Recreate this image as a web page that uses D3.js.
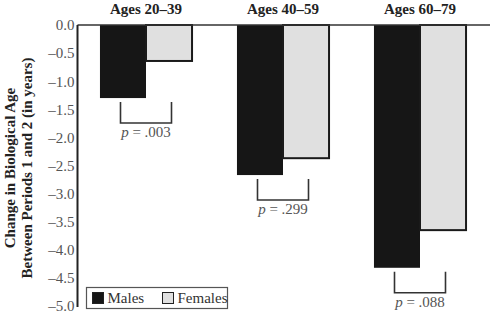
<!DOCTYPE html>
<html>
<head>
<meta charset="utf-8">
<script src="https://cdn.jsdelivr.net/npm/d3@7"></script>
<style>
  html, body { margin: 0; padding: 0; background: #fff; }
  svg { display: block; }
  text { font-family: "Liberation Serif", "DejaVu Serif", serif; }
</style>
</head>
<body>
<svg id="chart" width="490" height="324"></svg>
<script>
// Age groups, change in biological age per sex, and the p-values comparing them
const groups = ["Ages 20\u201339", "Ages 40\u201359", "Ages 60\u201379"];
const sexes = ["Males", "Females"];
const males = [-1.30, -2.67, -4.32];
const females = [-0.64, -2.37, -3.65];
const pValues = [".003", ".299", ".088"];
const yTicks = [0, -0.5, -1, -1.5, -2, -2.5, -3, -3.5, -4, -4.5, -5];

const fills = { Males: "#161616", Females: "#e0e0e0" };

const svg = d3.select("#chart");
const W = 490, H = 324;
const plotLeft = 77.5, plotTop = 25, plotBottom = 306;

const y = d3.scaleLinear().domain([0, -5]).range([plotTop, plotBottom]);
const x0 = d3.scaleBand().domain(groups).range([plotLeft, W - 1.5])
  .paddingInner(0.328).paddingOuter(0.164);
const x1 = d3.scaleBand().domain(sexes).range([0, x0.bandwidth()]);

const rows = groups.map((g, i) => ({ group: g, Males: males[i], Females: females[i], p: pValues[i] }));

// Bars
const g = svg.selectAll("g.group").data(rows).join("g")
  .attr("class", "group")
  .attr("transform", d => `translate(${x0(d.group)},0)`);

g.selectAll("rect").data(d => sexes.map(s => ({ sex: s, value: d[s] }))).join("rect")
  .attr("x", d => x1(d.sex))
  .attr("y", y(0))
  .attr("width", x1.bandwidth())
  .attr("height", d => y(d.value) - y(0))
  .attr("fill", d => fills[d.sex])
  .attr("stroke", d => d.sex === "Females" ? "#1a1a1a" : "none")
  .attr("stroke-width", 2);

// Significance brackets beneath each pair
const bw = 51, bh = 21;
g.each(function (d) {
  const sel = d3.select(this);
  const cx = x0.bandwidth() / 2;
  const low = Math.min(d.Males, d.Females);
  const y0 = y(low) + 4;
  sel.append("path")
    .attr("d", `M${cx - bw / 2},${y0}V${y0 + bh}H${cx + bw / 2}V${y0}`)
    .attr("fill", "none")
    .attr("stroke", "#333")
    .attr("stroke-width", 1.6);
  const t = sel.append("text")
    .attr("x", cx)
    .attr("y", y0 + bh + 14)
    .attr("text-anchor", "middle")
    .attr("font-size", 15)
    .attr("fill", "#555");
  t.append("tspan").attr("font-style", "italic").text("p");
  t.append("tspan").text(" = " + d.p);
});

// Group titles
svg.selectAll("text.title").data(groups).join("text")
  .attr("class", "title")
  .attr("x", d => x0(d) + x0.bandwidth() / 2)
  .attr("y", 14)
  .attr("text-anchor", "middle")
  .attr("font-weight", "bold")
  .attr("font-size", 15)
  .attr("fill", "#222")
  .text(d => d);

// Axis lines: vertical y axis and the zero baseline along the top
svg.append("line")
  .attr("x1", plotLeft).attr("x2", W).attr("y1", y(0)).attr("y2", y(0))
  .attr("stroke", "#333").attr("stroke-width", 1.5);

const yAxis = d3.axisLeft(y).tickValues(yTicks).tickSize(0).tickPadding(3)
  .tickFormat(d => d3.format(".1f")(d).replace("-", "\u2013").replace("\u2212", "\u2013"));
const ax = svg.append("g").attr("transform", `translate(${plotLeft},0)`).call(yAxis);
ax.attr("font-family", null);
ax.select(".domain").attr("stroke", "#222").attr("stroke-width", 2)
  .attr("d", `M0,${y(0)}V${y(-5) + 1}`);
ax.selectAll("text")
  .attr("font-size", 15)
  .attr("fill", "#555");

// Y axis title, two lines
const yTitle = svg.append("text")
  .attr("transform", `translate(10,168) rotate(-90)`)
  .attr("text-anchor", "middle")
  .attr("font-weight", "bold")
  .attr("font-size", 15)
  .attr("fill", "#222");
yTitle.append("tspan").attr("x", 0).attr("dy", 5).text("Change in Biological Age");
yTitle.append("tspan").attr("x", 0).attr("dy", 17).text("Between Periods 1 and 2 (in years)");

// Legend
const leg = svg.append("g").attr("transform", "translate(86.5,287.5)");
leg.append("rect").attr("width", 141).attr("height", 21)
  .attr("fill", "#fff").attr("stroke", "#555").attr("stroke-width", 1.2);
const items = leg.selectAll("g.item").data(sexes).join("g")
  .attr("class", "item")
  .attr("transform", (d, i) => `translate(${6 + i * 70},5)`);
items.append("rect").attr("width", 11).attr("height", 11)
  .attr("fill", d => fills[d]).attr("stroke", "#222").attr("stroke-width", 1);
items.append("text").attr("x", 15).attr("y", 10.5)
  .attr("font-size", 15).attr("fill", "#333")
  .text(d => d);
</script>
</body>
</html>
